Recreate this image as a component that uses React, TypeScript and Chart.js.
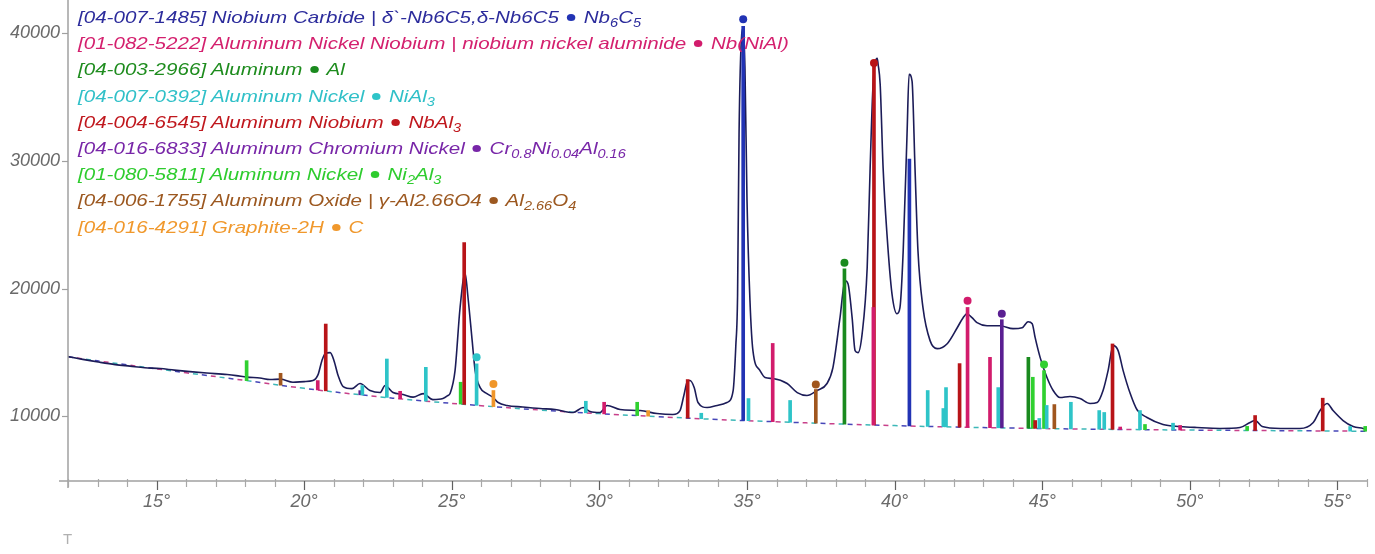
import React, { useEffect, useRef } from "react";
import { Chart, registerables } from "chart.js";

Chart.register(...registerables);

// ---------- observed pattern (2θ, counts) ----------
const patternX = [
  12.0, 12.5, 13.08, 13.6, 14.1, 14.6, 15.12, 15.6, 16.13, 16.7, 17.39, 17.7, 18.06, 18.5, 18.84, 19.2, 19.62, 20.0,
  20.3, 20.47, 20.6, 20.71, 20.88, 21.01, 21.15, 21.32, 21.62, 21.89, 22.23, 22.57, 22.74, 23.01, 23.35, 23.69, 24.03,
  24.36, 24.7, 24.87, 24.94, 25.11, 25.28, 25.45, 25.55, 25.69, 25.79, 25.96, 26.19, 26.4, 26.57, 26.87, 27.4, 27.99,
  28.5, 29.11, 29.45, 29.68, 30.02, 30.26, 30.7, 31.38, 31.95, 32.49, 32.73, 32.86, 32.97, 33.07, 33.21, 33.34, 33.65,
  33.99, 34.32, 34.53, 34.62, 34.68, 34.73, 34.82, 34.87, 34.93, 35.0, 35.1, 35.2, 35.44, 35.61, 35.88, 36.36, 36.7,
  37.03, 37.37, 37.71, 37.91, 38.15, 38.32, 38.42, 38.56, 38.66, 38.76, 38.9, 39.07, 39.17, 39.27, 39.41, 39.44, 39.51,
  39.61, 39.74, 39.91, 40.08, 40.18, 40.29, 40.42, 40.49, 40.59, 40.69, 40.79, 40.96, 41.2, 41.44, 41.78, 42.12, 42.32,
  42.45, 42.62, 42.79, 43.13, 43.57, 44.01, 44.32, 44.52, 44.66, 44.76, 44.93, 45.16, 45.37, 45.6, 45.94, 46.28, 46.62,
  46.86, 47.06, 47.23, 47.4, 47.57, 47.74, 47.98, 48.21, 48.55, 49.09, 49.67, 50.24, 51.02, 51.7, 52.04, 52.21, 52.45,
  53.06, 53.73, 54.18, 54.41, 54.65, 54.85, 55.19, 55.53, 55.87, 56.0,
];
const patternY = [
  14670, 14450, 14220, 14040, 13920, 13800, 13730, 13610, 13490, 13380, 13260, 13180, 13060, 12990, 12870, 12900, 12660, 12710,
  12790, 13260, 14350, 14900, 14980, 14350, 13180, 12320, 12160, 12560, 12010, 11850, 12400, 11850, 11700, 11490, 11770,
  11300, 11380, 11620, 11770, 13570, 18500, 21200, 19280, 15920, 13570, 12240, 11770, 11460, 11070, 10840, 10720, 10600,
  10520, 10290, 10680, 10370, 10290, 10840, 10520, 10440, 10210, 10130, 10440, 11620, 12660, 12790, 12240, 11070, 10680,
  10840, 11070, 12010, 15500, 19500, 32100, 39900, 40400, 37260, 26860, 19050, 15140, 13570, 13030, 12950, 12560, 11850,
  11620, 12010, 12560, 13810, 17720, 20610, 20380, 17720, 15140, 14980, 16470, 21630, 29440, 36010, 38050, 37580, 36010,
  29440, 24280, 19590, 18030, 18500, 22960, 32100, 36800, 36250, 29440, 22960, 18500, 15920, 15290, 15680, 16930, 17720,
  18030, 17720, 17330, 17090, 17090, 16860, 16930, 17400, 17250, 16150, 14590, 13030, 12010, 11460, 11540, 11380, 10990,
  11070, 12010, 13570, 15530, 15140, 13570, 11770, 10500, 9900, 9350, 9190, 9110, 9040, 9110, 9510, 9660, 9190,
  9040, 9040, 9510, 10440, 10990, 10440, 9660, 9190, 9040, 8960,
];

// ---------- background (dashed) ----------
const baselineX = [12, 14, 16, 18, 20, 22, 24, 26, 28, 30, 32, 34, 36, 38, 40, 42, 44, 46, 48, 50, 52, 54, 56];
const baselineY = [14650, 14020, 13400, 12800, 12180, 11650, 11200, 10820, 10480, 10200, 9960, 9740, 9560, 9400, 9260, 9150, 9070, 9000, 8950, 8910, 8880, 8850, 8820];

// ---------- reference phases: stick positions / tops, marker dot ----------
const carbidePos = [34.87, 40.5];
const carbideTop = [40550, 30150];
const carbideDot = [34.87, 41100];

const nbNiAlPos = [20.46, 23.25, 30.16, 35.87, 39.28, 42.47, 43.23, 47.64, 49.67];
const nbNiAlTop = [12790, 11950, 11090, 15700, 18520, 18520, 14610, 9150, 9270];
const nbNiAlDot = [42.47, 19050];

const alPos = [38.3, 44.53];
const alTop = [21550, 14610];
const alDot = [38.3, 22020];

const niAl3Pos = [21.97, 22.8, 24.12, 25.84, 29.54, 33.45, 35.05, 36.46, 41.12, 41.65, 41.74, 43.51, 44.9, 45.15, 45.97, 46.93, 47.1, 48.31, 49.43, 55.43];
const niAl3Top = [12400, 14480, 13830, 14100, 11170, 10230, 11380, 11230, 12010, 10600, 12240, 12240, 9820, 10840, 11090, 10440, 10290, 10440, 9450, 9190];
const niAl3Dot = [25.84, 14610];

const nbAl3Pos = [20.73, 25.42, 32.99, 39.3, 42.2, 44.76, 47.38, 52.21, 54.5];
const nbAl3Top = [17220, 23600, 12870, 37420, 14120, 9660, 15660, 10050, 11410];
const nbAl3Dot = [39.3, 37680];

const crPos = [21.9, 43.63];
const crTop = [12000, 17560];
const crDot = [43.63, 18030];

const ni2Al3Pos = [18.05, 25.3, 31.28, 44.68, 45.06, 48.48, 51.94, 55.94];
const ni2Al3Top = [14350, 12660, 11090, 13050, 13570, 9350, 9200, 9200];
const ni2Al3Dot = [45.06, 14040];

const oxidePos = [19.2, 37.33, 45.41];
const oxideTop = [13360, 12090, 10910];
const oxideDot = [37.33, 12480];

const graphitePos = [26.41, 31.65];
const graphiteTop = [12010, 10440];
const graphiteDot = [26.41, 12530];

// ---------- axes ----------
const xMin = 12;
const xMax = 56;
const yMin = 4920;
const yMax = 42300;
const yTickValues = [10000, 20000, 30000, 40000];
const xMajorEvery = 5;

function bgAt(x: number): number {
  for (let i = 0; i < baselineX.length - 1; i++) {
    if (x >= baselineX[i] && x <= baselineX[i + 1]) {
      const t = (x - baselineX[i]) / (baselineX[i + 1] - baselineX[i]);
      return baselineY[i] + t * (baselineY[i + 1] - baselineY[i]);
    }
  }
  return baselineY[baselineY.length - 1];
}

const phases = [
  { pos: carbidePos, top: carbideTop, dot: carbideDot, color: "#2233b4" },
  { pos: nbNiAlPos, top: nbNiAlTop, dot: nbNiAlDot, color: "#d21c6c" },
  { pos: alPos, top: alTop, dot: alDot, color: "#1a8a1e" },
  { pos: niAl3Pos, top: niAl3Top, dot: niAl3Dot, color: "#2ec4c8" },
  { pos: nbAl3Pos, top: nbAl3Top, dot: nbAl3Dot, color: "#b81418" },
  { pos: crPos, top: crTop, dot: crDot, color: "#5a1f92" },
  { pos: ni2Al3Pos, top: ni2Al3Top, dot: ni2Al3Dot, color: "#30d030" },
  { pos: oxidePos, top: oxideTop, dot: oxideDot, color: "#a0561e" },
  { pos: graphitePos, top: graphiteTop, dot: graphiteDot, color: "#f0962a" },
];

const sub = { fontSize: "12px", verticalAlign: "-4px", lineHeight: 0 } as React.CSSProperties;

const legendRows = [
  { color: "#2c2c9c", text: "[04-007-1485] Niobium Carbide | δ`-Nb6C5,δ-Nb6C5", dot: "#2233b4", formula: <>Nb<sub style={sub}>6</sub>C<sub style={sub}>5</sub></> },
  { color: "#d4206e", text: "[01-082-5222] Aluminum Nickel Niobium | niobium nickel aluminide", dot: "#d21c6c", formula: <>Nb(NiAl)</> },
  { color: "#1e8c1e", text: "[04-003-2966] Aluminum", dot: "#1a8a1e", formula: <>Al</> },
  { color: "#30c0c8", text: "[04-007-0392] Aluminum Nickel", dot: "#2ec4c8", formula: <>NiAl<sub style={sub}>3</sub></> },
  { color: "#c0181e", text: "[04-004-6545] Aluminum Niobium", dot: "#c0181e", formula: <>NbAl<sub style={sub}>3</sub></> },
  { color: "#7826a8", text: "[04-016-6833] Aluminum Chromium Nickel", dot: "#7826a8", formula: <>Cr<sub style={sub}>0.8</sub>Ni<sub style={sub}>0.04</sub>Al<sub style={sub}>0.16</sub></> },
  { color: "#2ecc2e", text: "[01-080-5811] Aluminum Nickel", dot: "#2ecc2e", formula: <>Ni<sub style={sub}>2</sub>Al<sub style={sub}>3</sub></> },
  { color: "#9c5820", text: "[04-006-1755] Aluminum Oxide | γ-Al2.66O4", dot: "#9c5820", formula: <>Al<sub style={sub}>2.66</sub>O<sub style={sub}>4</sub></> },
  { color: "#f0982c", text: "[04-016-4291] Graphite-2H", dot: "#f0982c", formula: <>C</> },
];

const FONT = "'Liberation Sans', Arial, sans-serif";

const axesPlugin = {
  id: "xrdAxes",
  afterDraw(chart: any) {
    const { ctx, chartArea } = chart;
    const xs = chart.scales.x;
    const ys = chart.scales.y;
    ctx.save();
    ctx.lineWidth = 1.5;
    ctx.strokeStyle = "#a0a0a0";
    ctx.beginPath();
    ctx.moveTo(chartArea.left, 0);
    ctx.lineTo(chartArea.left, chartArea.bottom + 7);
    ctx.stroke();
    ctx.beginPath();
    ctx.moveTo(chartArea.left - 9, chartArea.bottom);
    ctx.lineTo(chartArea.right, chartArea.bottom);
    ctx.stroke();
    ctx.lineWidth = 1.2;
    for (const t of xs.ticks) {
      const px = Math.round(xs.getPixelForValue(t.value)) + 0.5;
      const major = t.value % xMajorEvery === 0;
      ctx.strokeStyle = major ? "#606060" : "#a8a8a8";
      ctx.beginPath();
      ctx.moveTo(px, chartArea.bottom - (major ? 0 : 2));
      ctx.lineTo(px, chartArea.bottom + (major ? 9 : 6));
      ctx.stroke();
    }
    ctx.strokeStyle = "#a0a0a0";
    for (const v of yTickValues) {
      const py = Math.round(ys.getPixelForValue(v)) + 0.5;
      ctx.beginPath();
      ctx.moveTo(chartArea.left - 6, py);
      ctx.lineTo(chartArea.left, py);
      ctx.stroke();
    }
    ctx.restore();
  },
};

function zeroPad(s: any) {
  s.paddingTop = 0;
  s.paddingBottom = 0;
  s.paddingLeft = 0;
  s.paddingRight = 0;
}

export default function App() {
  const canvasRef = useRef<HTMLCanvasElement | null>(null);

  useEffect(() => {
    if (!canvasRef.current) return;
    const datasets: any[] = [];

    datasets.push({
      type: "line",
      data: patternX.map((x, i) => ({ x, y: patternY[i] })),
      borderColor: "#1c1c58",
      borderWidth: 1.6,
      pointRadius: 0,
      cubicInterpolationMode: "monotone",
      order: 3,
    });

    const dashColors = ["#4646b8", "#c8408a", "#3cb8b8"];
    dashColors.forEach((c, k) => {
      datasets.push({
        type: "line",
        data: baselineX.map((x, i) => ({ x, y: baselineY[i] })),
        borderColor: c,
        borderWidth: 1.5,
        borderDash: [5, 22],
        borderDashOffset: -9 * k,
        pointRadius: 0,
        tension: 0.4,
        order: 4,
      });
    });

    phases.forEach((p) => {
      datasets.push({
        type: "bar",
        data: p.pos.map((x, i) => ({ x, y: [bgAt(x), p.top[i]] })),
        backgroundColor: p.color,
        borderWidth: 0,
        barThickness: 3,
        grouped: false,
        order: 2,
      });
      datasets.push({
        type: "line",
        data: [{ x: p.dot[0], y: p.dot[1] }],
        showLine: false,
        pointRadius: 4,
        pointBorderWidth: 0,
        pointBackgroundColor: p.color,
        clip: false,
        order: 1,
      });
    });

    const chart = new Chart(canvasRef.current, {
      type: "line",
      data: { datasets },
      plugins: [axesPlugin],
      options: {
        responsive: false,
        animation: false,
        layout: { padding: { top: 3, right: 8, left: 0, bottom: 0 } },
        plugins: { legend: { display: false }, tooltip: { enabled: false } },
        scales: {
          x: {
            type: "linear",
            min: xMin,
            max: xMax,
            offset: false,
            grid: { display: false, drawTicks: false, offset: false },
            border: { display: false },
            afterFit: (s: any) => {
              s.height = 73;
              zeroPad(s);
            },
            ticks: {
              stepSize: 1,
              autoSkip: false,
              maxRotation: 0,
              padding: 10,
              color: "#6a6a6a",
              font: { family: FONT, size: 18, style: "italic" },
              callback: (v: any) => (Number(v) % xMajorEvery === 0 ? `${v}°` : ""),
            },
          },
          y: {
            type: "linear",
            min: yMin,
            max: yMax,
            grid: { display: false, drawTicks: false },
            border: { display: false },
            afterFit: (s: any) => {
              s.width = 68;
              zeroPad(s);
            },
            afterBuildTicks: (s: any) => {
              s.ticks = yTickValues.map((v) => ({ value: v }));
            },
            ticks: {
              padding: 8,
              color: "#6a6a6a",
              font: { family: FONT, size: 18, style: "italic" },
              callback: (v: any) => String(v),
            },
          },
        },
      },
    });
    return () => chart.destroy();
  }, []);

  return (
    <div style={{ position: "fixed", left: 0, top: 0, width: 1375, height: 554, background: "#fff", overflow: "hidden" }}>
      <canvas ref={canvasRef} width={1375} height={554} style={{ position: "absolute", left: 0, top: 0 }} />
      {legendRows.map((r, i) => (
        <div
          key={i}
          style={{
            position: "absolute",
            left: 78,
            top: 5 + i * 26.2,
            height: 26,
            lineHeight: "26px",
            whiteSpace: "nowrap",
            fontFamily: FONT,
            fontStyle: "italic",
            fontSize: 17,
            color: r.color,
            transform: "scaleX(1.21)",
            transformOrigin: "left center",
          }}
        >
          {r.text}{" "}
          <span
            style={{
              display: "inline-block",
              width: 7,
              height: 7,
              borderRadius: "50%",
              background: r.dot,
              verticalAlign: "2px",
              margin: "0 2px",
            }}
          />{" "}
          {r.formula}
        </div>
      ))}
      <div style={{ position: "absolute", left: 63, top: 530, fontFamily: FONT, fontSize: 15, color: "#b0b0b0" }}>T</div>
    </div>
  );
}
